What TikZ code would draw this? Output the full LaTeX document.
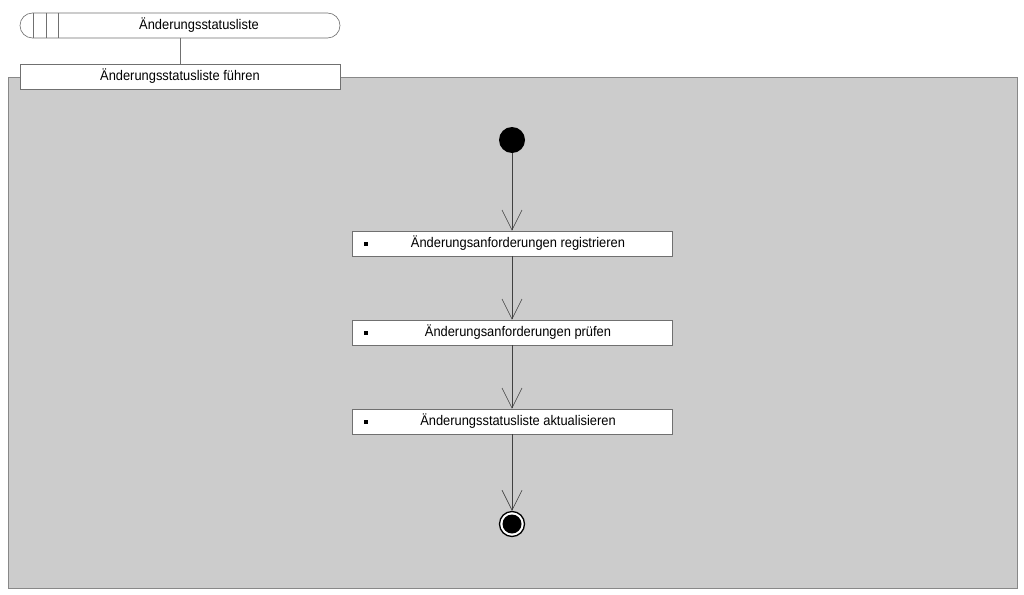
\documentclass[tikz,border=0pt]{standalone}
\usepackage{fontspec}
\setmainfont{Liberation Sans}[FakeStretch=0.92]
\usetikzlibrary{arrows.meta}
\definecolor{bgfill}{HTML}{CCCCCC}
\definecolor{edgegray}{HTML}{888888}
\definecolor{boxedge}{HTML}{707070}
\begin{document}
\begin{tikzpicture}[x=1pt,y=-1pt,
  every node/.style={font=\fontsize{14}{16}\selectfont, inner sep=0pt},
  actbox/.style={draw=boxedge, fill=white, minimum width=320pt, minimum height=25pt, line width=0.6pt},
  flow/.style={draw=black!75, line width=0.6pt, -{Straight Barb[length=20pt,width=20pt,line width=0.6pt]}},
  lbl/.style={anchor=center}]
\useasboundingbox (0,0) rectangle (1024,594);
\fill[white] (0,0) rectangle (1024,594);
% background region
\draw[draw=edgegray, fill=bgfill, line width=0.8pt] (8,77) rectangle (1017,588);
% top pill
\draw[draw=boxedge, fill=white, line width=0.6pt, rounded corners=12.5pt] (20,13) rectangle (340,38);
\draw[draw=boxedge, line width=0.6pt] (33,13) -- (33,38) (46,13) -- (46,38) (58,13) -- (58,38);
\node (pilltxt) at (199,25.5) {Änderungsstatusliste};
\coordinate (pillb) at (180,38);
% header box
\node[actbox] (hdr) at (180,76.5) {};
\node (hdrtxt) at (180,76.5) {Änderungsstatusliste führen};
\draw[draw=boxedge, line width=0.6pt] (pillb) -- (hdr.north);
% start
\node[circle, fill=black, minimum size=26pt] (start) at (512,140) {};
% activities
\node[actbox] (a1) at (512,243.5) {};
\node (t1) at (518,243.5) {Änderungsanforderungen registrieren};
\node[actbox] (a2) at (512,332.5) {};
\node (t2) at (518,332.5) {Änderungsanforderungen prüfen};
\node[actbox] (a3) at (512,421.5) {};
\node (t3) at (518,421.5) {Änderungsstatusliste aktualisieren};
\foreach \n in {a1,a2,a3}{
  \fill ([xshift=12pt]\n.west) ++(0,-2) rectangle ++(4,4);
}
% end
\node[circle, draw=black, line width=1.3pt, fill=white, minimum size=25pt] (stop) at (512,524) {};
\node[circle, fill=black, minimum size=19pt] (stopin) at (512,524) {};
% flows
\draw[flow] (start) -- (a1);
\draw[flow] (a1) -- (a2);
\draw[flow] (a2) -- (a3);
\draw[flow] (a3) -- (stop);
\end{tikzpicture}
\end{document}
